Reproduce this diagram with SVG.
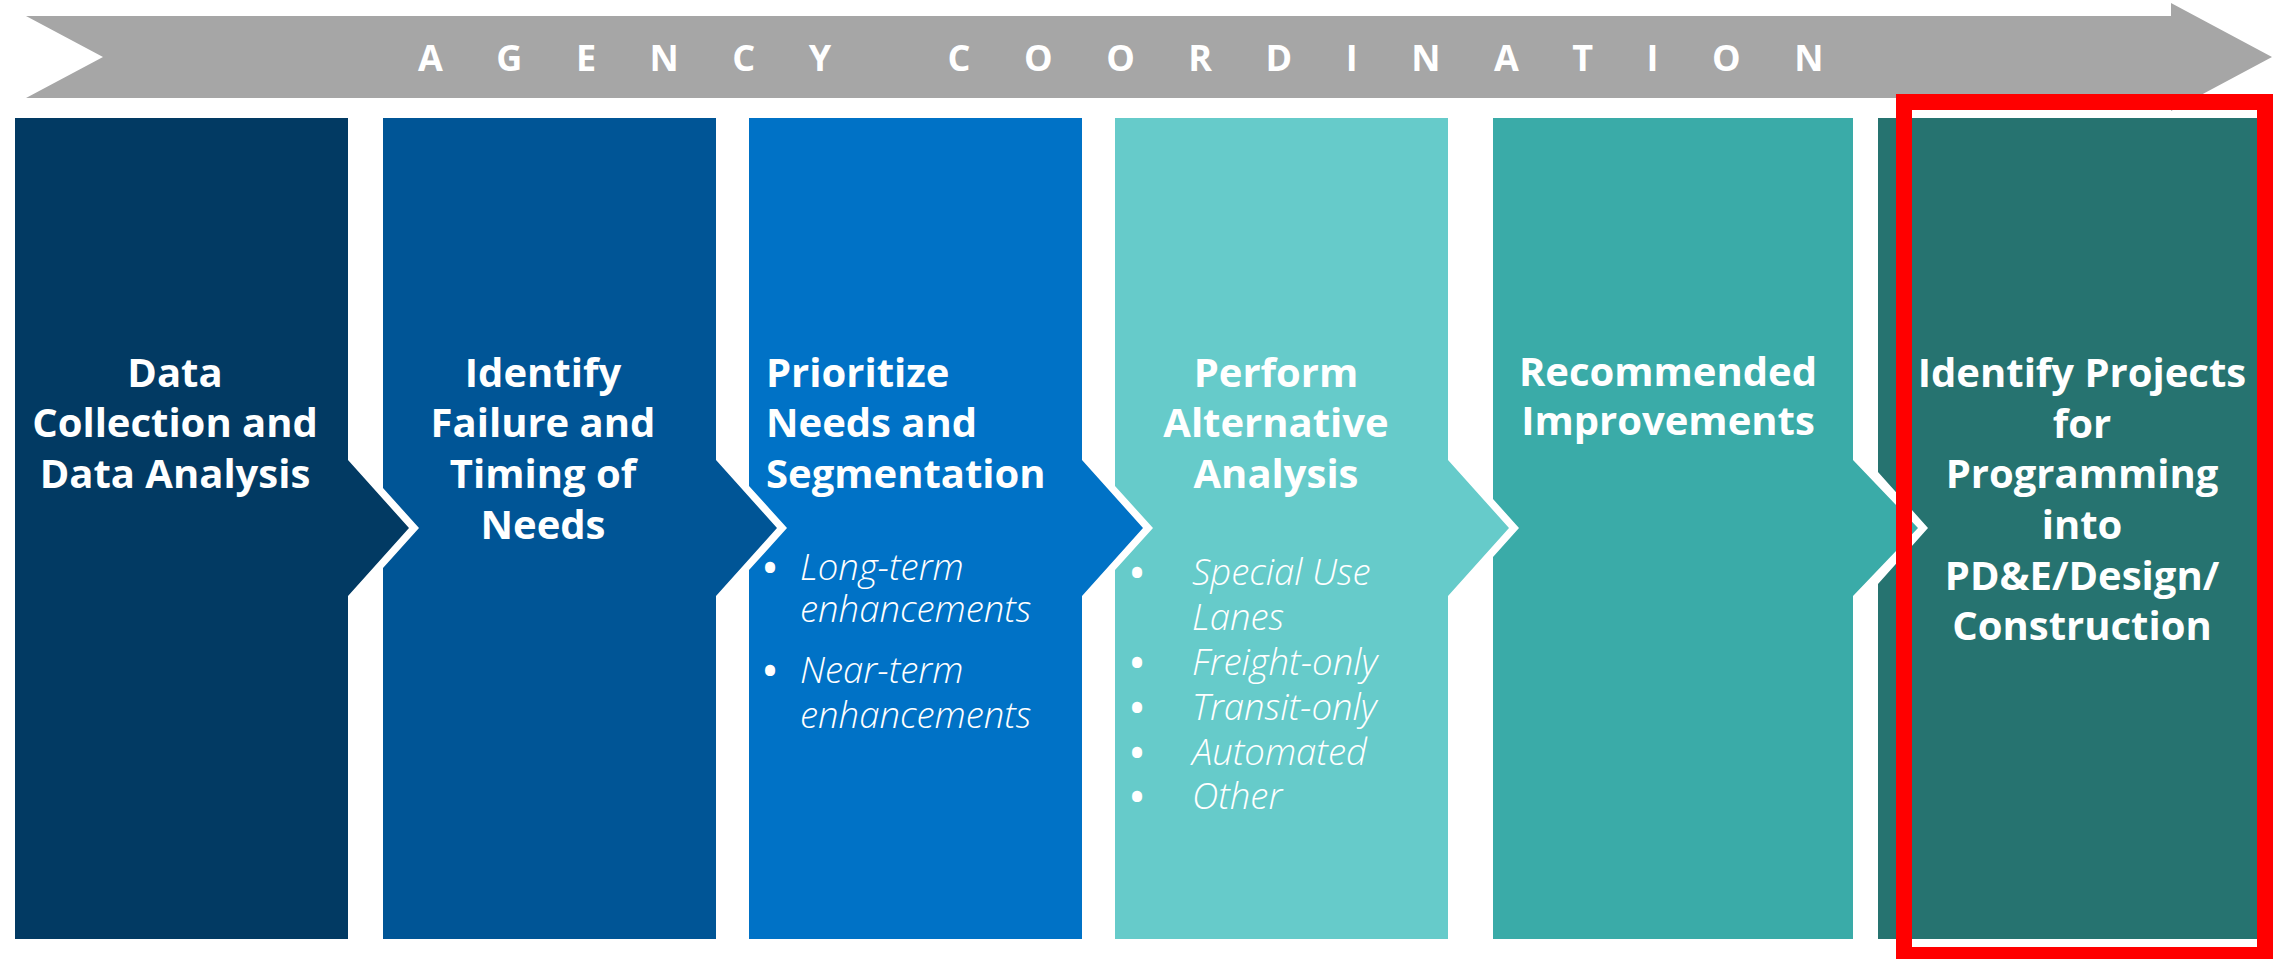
<svg xmlns="http://www.w3.org/2000/svg" width="2285" height="959" viewBox="0 0 2285 959">
<style>
.t{font-family:"Open Sans","Noto Sans","Liberation Sans",sans-serif;font-weight:700;font-size:40px;fill:#ffffff}
.c{text-anchor:middle}
.b{font-family:"Open Sans","Noto Sans","Liberation Sans",sans-serif;font-style:italic;font-weight:300;font-size:36.5px;fill:#ffffff}
.dot{font-family:"Open Sans","Noto Sans","Liberation Sans",sans-serif;font-weight:700;font-size:36px;fill:#ffffff;text-anchor:middle}
.band{font-family:"Open Sans","Noto Sans","Liberation Sans",sans-serif;font-weight:700;font-size:36px;fill:#ffffff;letter-spacing:53.5px}
</style>
<rect width="2285" height="959" fill="#ffffff"/>
<g id="banner">
<path d="M26,16 H2171 V3 L2272,57 L2171,111 V98 H26 L103,57 Z" fill="#a6a6a6"/>
<text class="band" x="418" y="71">AGENCY COORDINATION</text>
</g>
<g id="node1">
<path d="M15,118 H348 V460 L409,528 L348,596 V939 H15 Z" fill="#023a63"/>
<text class="t c" x="175" y="387">Data</text>
<text class="t c" x="175" y="437">Collection and</text>
<text class="t c" x="175" y="488">Data Analysis</text>
</g>
<g id="node2">
<path d="M383,118 H716 V460 L777,528 L716,596 V939 H383 V568 L419,528 L383,488 Z" fill="#005596"/>
<text class="t c" x="543" y="387">Identify</text>
<text class="t c" x="543" y="437">Failure and</text>
<text class="t c" x="543" y="488">Timing of</text>
<text class="t c" x="543" y="539">Needs</text>
</g>
<g id="node3">
<path d="M749,118 H1082 V460 L1143,528 L1082,596 V939 H749 V570 L787,528 L749,486 Z" fill="#0072c6"/>
<text class="t" x="766" y="387">Prioritize</text>
<text class="t" x="766" y="437">Needs and</text>
<text class="t" x="766" y="488">Segmentation</text>
<text class="dot" x="770" y="581">•</text>
<text class="b" x="800" y="580">Long-term</text>
<text class="b" x="800" y="622">enhancements</text>
<text class="dot" x="770" y="684">•</text>
<text class="b" x="800" y="683">Near-term</text>
<text class="b" x="800" y="728">enhancements</text>
</g>
<g id="node4">
<path d="M1115,118 H1448 V460 L1509,528 L1448,596 V939 H1115 V570 L1153,528 L1115,486 Z" fill="#66cbca"/>
<text class="t c" x="1276" y="387">Perform</text>
<text class="t c" x="1276" y="437">Alternative</text>
<text class="t c" x="1276" y="488">Analysis</text>
<text class="dot" x="1137" y="586">•</text>
<text class="b" x="1192" y="585">Special Use</text>
<text class="b" x="1192" y="630">Lanes</text>
<text class="dot" x="1137" y="676">•</text>
<text class="b" x="1192" y="675">Freight-only</text>
<text class="dot" x="1137" y="721">•</text>
<text class="b" x="1192" y="720">Transit-only</text>
<text class="dot" x="1137" y="766">•</text>
<text class="b" x="1192" y="765">Automated</text>
<text class="dot" x="1137" y="810">•</text>
<text class="b" x="1192" y="809">Other</text>
</g>
<g id="node5">
<path d="M1493,118 H1853 V460 L1918,528 L1853,596 V939 H1493 V557 L1519,528 L1493,499 Z" fill="#3aaba8"/>
<text class="t c" x="1668" y="386">Recommended</text>
<text class="t c" x="1668" y="435">Improvements</text>
</g>
<g id="node6">
<path d="M1878,118 H2257 V939 H1878 V584 L1928,528 L1878,472 Z" fill="#267370"/>
<text class="t c" x="2082" y="387">Identify Projects</text>
<text class="t c" x="2082" y="438">for</text>
<text class="t c" x="2082" y="488">Programming</text>
<text class="t c" x="2082" y="539">into</text>
<text class="t c" x="2082" y="590">PD&amp;E/Design/</text>
<text class="t c" x="2082" y="640">Construction</text>
</g>
<g id="highlight">
<path d="M1896,94 H2273 V959 H1896 Z M1912,110 V947 H2257 V110 Z" fill="#ff0000" fill-rule="evenodd"/>
</g>
</svg>
